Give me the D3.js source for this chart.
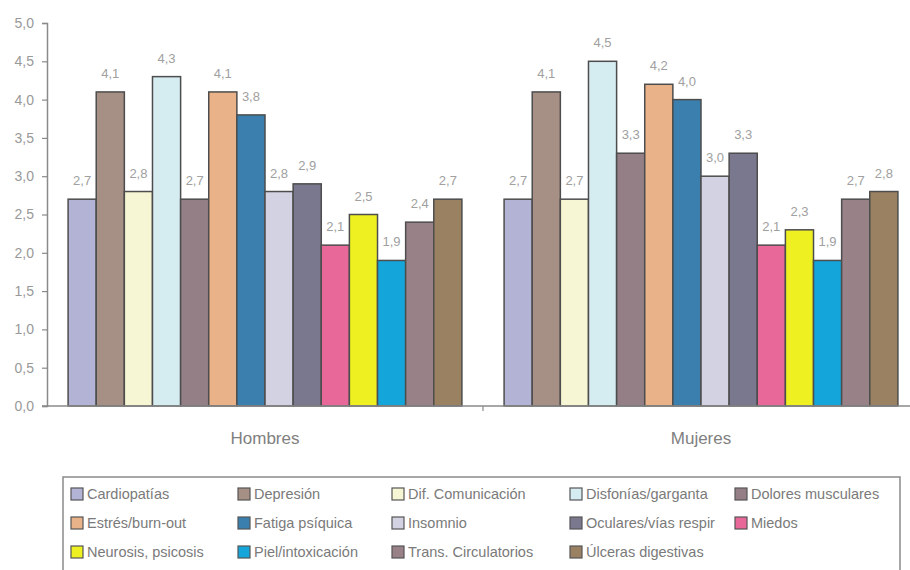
<!DOCTYPE html>
<html>
<head>
<meta charset="utf-8">
<script src="https://cdn.jsdelivr.net/npm/d3@7"></script>
<style>
  body { margin: 0; background: #fff; }
  text { font-family: "Liberation Sans", Arial, sans-serif; }
</style>
</head>
<body>
<svg id="chart" width="910" height="570"></svg>
<script>
const groups = ["Hombres", "Mujeres"];
const series = ["Cardiopatías", "Depresión", "Dif. Comunicación", "Disfonías/garganta",
  "Dolores musculares", "Estrés/burn-out", "Fatiga psíquica", "Insomnio",
  "Oculares/vías respir", "Miedos", "Neurosis, psicosis", "Piel/intoxicación",
  "Trans. Circulatorios", "Úlceras digestivas"];
const hombres = [2.7, 4.1, 2.8, 4.3, 2.7, 4.1, 3.8, 2.8, 2.9, 2.1, 2.5, 1.9, 2.4, 2.7];
const mujeres = [2.7, 4.1, 2.7, 4.5, 3.3, 4.2, 4.0, 3.0, 3.3, 2.1, 2.3, 1.9, 2.7, 2.8];
const yTicks = [0, 0.5, 1, 1.5, 2, 2.5, 3, 3.5, 4, 4.5, 5];
const colors = ["#b3b3d6", "#a68f84", "#f6f6d4", "#d5ecf0", "#937f85", "#eab288", "#3b7fae",
  "#d2d2e2", "#7a788e", "#e8689a", "#eef022", "#14a6da", "#998188", "#9a8162"];

const values = { Hombres: hombres, Mujeres: mujeres };
const fmt = v => d3.format(".1f")(v).replace(".", ",");

const svg = d3.select("#chart");
const plot = { left: 47, top: 23, bottom: 406, right: 919 };

const y = d3.scaleLinear().domain([0, 5]).range([plot.bottom, plot.top]);
const x0 = d3.scaleBand().domain(groups).range([plot.left, plot.right]).padding(0);
const x1 = d3.scaleBand().domain(series).range([0, x0.bandwidth()])
  .paddingInner(0).paddingOuter(0.75);

// y axis
const yAxis = svg.append("g")
  .attr("transform", `translate(${plot.left},0)`)
  .call(d3.axisLeft(y).tickValues(yTicks).tickSize(5).tickPadding(8).tickFormat(fmt));
yAxis.select(".domain").attr("stroke", "#8a8a8a").attr("stroke-width", 1.5);
yAxis.selectAll(".tick line").attr("stroke", "#8a8a8a").attr("stroke-width", 1.2);
yAxis.selectAll(".tick text").attr("fill", "#999").style("font-size", "14px");

// bars
const gGroups = svg.append("g").selectAll("g")
  .data(groups)
  .join("g")
  .attr("transform", d => `translate(${x0(d)},0)`);

gGroups.selectAll("rect")
  .data(g => series.map((s, i) => ({ s, i, v: values[g][i] })))
  .join("rect")
  .attr("x", d => x1(d.s))
  .attr("y", d => y(d.v))
  .attr("width", x1.bandwidth())
  .attr("height", d => y(0) - y(d.v))
  .attr("fill", d => colors[d.i])
  .attr("stroke", "#4d4d4d")
  .attr("stroke-width", 1.5);

gGroups.selectAll("text")
  .data(g => series.map((s, i) => ({ s, i, v: values[g][i] })))
  .join("text")
  .attr("x", d => x1(d.s) + x1.bandwidth() / 2)
  .attr("y", d => y(d.v) - 14)
  .attr("text-anchor", "middle")
  .attr("fill", "#a0a0a0")
  .style("font-size", "13px")
  .text(d => fmt(d.v));

// x axis
svg.append("line")
  .attr("x1", plot.left - 5).attr("x2", 910)
  .attr("y1", y(0)).attr("y2", y(0))
  .attr("stroke", "#8a8a8a").attr("stroke-width", 1.5);
svg.append("g").selectAll("line")
  .data(groups.slice(1))
  .join("line")
  .attr("x1", d => x0(d)).attr("x2", d => x0(d))
  .attr("y1", y(0)).attr("y2", y(0) + 5)
  .attr("stroke", "#8a8a8a").attr("stroke-width", 1.2);
svg.append("g").selectAll("text")
  .data(groups)
  .join("text")
  .attr("x", d => x0(d) + x0.bandwidth() / 2)
  .attr("y", 444)
  .attr("text-anchor", "middle")
  .attr("fill", "#808080")
  .style("font-size", "17px")
  .text(d => d);

// legend
const legCols = [71, 238, 392, 570, 735];
const legRows = [494, 523, 552];
svg.append("rect")
  .attr("x", 63).attr("y", 477)
  .attr("width", 837).attr("height", 100)
  .attr("fill", "none")
  .attr("stroke", "#8a8a8a").attr("stroke-width", 1.5);

const legend = svg.append("g").selectAll("g")
  .data(series)
  .join("g")
  .attr("transform", (d, i) => `translate(${legCols[i % 5]},${legRows[Math.floor(i / 5)]})`);
legend.append("rect")
  .attr("x", 0).attr("y", -6)
  .attr("width", 12).attr("height", 12)
  .attr("fill", (d, i) => colors[i])
  .attr("stroke", "#555").attr("stroke-width", 1.2);
legend.append("text")
  .attr("x", 16).attr("y", 5)
  .attr("fill", "#7a7a7a")
  .style("font-size", "14.5px")
  .text(d => d);
</script>
</body>
</html>
